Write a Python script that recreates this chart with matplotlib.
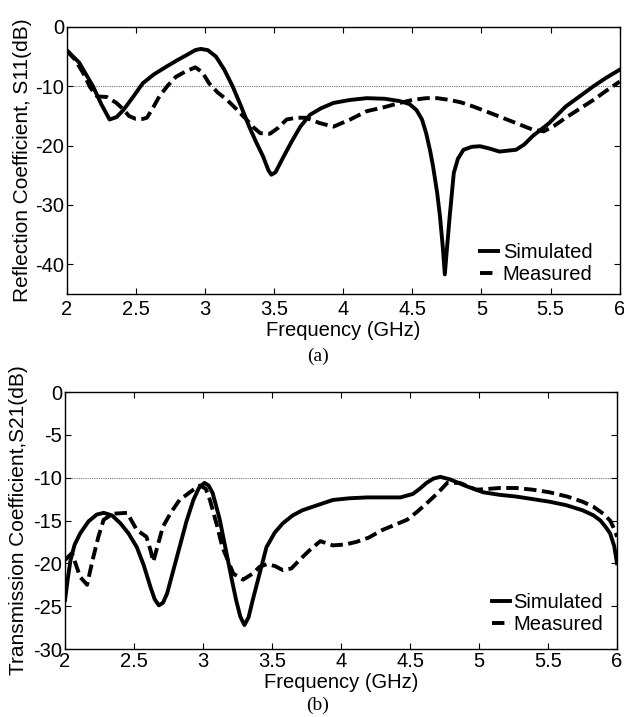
import matplotlib
matplotlib.use("Agg")
import matplotlib.pyplot as plt

plt.rcParams['font.family'] = ['Liberation Sans', 'DejaVu Sans']
plt.rcParams['axes.unicode_minus'] = False

# (a) reflection coefficient S11
f_s11_sim = [2.0, 2.09, 2.19, 2.25, 2.31, 2.36, 2.41, 2.48, 2.55, 2.63, 2.72, 2.8, 2.87, 2.93, 2.97,
             3.02, 3.08, 3.14, 3.2, 3.26, 3.32, 3.37, 3.42, 3.46, 3.48, 3.51, 3.57, 3.63, 3.69, 3.76,
             3.84, 3.93, 4.05, 4.17, 4.3, 4.41, 4.48, 4.53, 4.57, 4.6, 4.63, 4.65, 4.68, 4.7, 4.72,
             4.735, 4.75, 4.77, 4.8, 4.83, 4.87, 4.93, 4.99, 5.06, 5.13, 5.25, 5.31, 5.37, 5.49,
             5.61, 5.71, 5.81, 5.9, 6.0]
s11_sim = [-3.9, -6.0, -10.0, -13.0, -15.6, -15.2, -14.0, -11.8, -9.5, -8.0, -6.7, -5.6, -4.7, -3.9, -3.7,
           -3.9, -5.0, -7.2, -10.0, -13.3, -16.8, -19.4, -21.8, -24.2, -24.9, -24.5, -21.8, -19.2, -16.8, -14.8,
           -13.7, -12.8, -12.3, -12.0, -12.1, -12.5, -13.0, -14.0, -15.6, -17.9, -21.0, -23.5, -28.0, -31.9, -37.0,
           -41.7, -37.5, -32.0, -24.6, -22.2, -20.7, -20.2, -20.1, -20.5, -21.0, -20.7, -19.8, -18.4, -16.2,
           -13.4, -11.7, -10.0, -8.6, -7.2]

f_s11_meas = [2.0, 2.06, 2.12, 2.17, 2.22, 2.29, 2.36, 2.41, 2.45, 2.5, 2.55, 2.58, 2.62, 2.67, 2.73,
              2.79, 2.86, 2.93, 2.98, 3.03, 3.09, 3.16, 3.23, 3.3, 3.35, 3.4, 3.47, 3.53, 3.59, 3.66,
              3.73, 3.83, 3.93, 4.05, 4.17, 4.3, 4.41, 4.5, 4.6, 4.68, 4.77, 4.85, 4.94, 5.03, 5.13,
              5.25, 5.37, 5.45, 5.53, 5.61, 5.71, 5.81, 5.9, 6.0]
s11_meas = [-4.0, -5.5, -7.8, -10.2, -11.7, -11.8, -12.8, -13.9, -15.0, -15.5, -15.5, -15.3, -13.8, -11.7, -9.9,
            -8.4, -7.5, -6.8, -7.6, -9.5, -11.0, -12.3, -13.9, -15.6, -16.9, -17.9, -18.0, -17.0, -15.6, -15.3,
            -15.3, -16.2, -16.8, -15.6, -14.2, -13.5, -12.8, -12.3, -12.0, -12.0, -12.3, -12.7, -13.4, -14.2, -15.1,
            -16.2, -17.3, -17.6, -16.6, -15.3, -13.8, -12.3, -10.8, -9.2]

# (b) transmission coefficient S21
f_s21_sim = [2.0, 2.02, 2.04, 2.07, 2.11, 2.17, 2.23, 2.28, 2.34, 2.4, 2.46, 2.52, 2.57, 2.62, 2.65,
             2.68, 2.71, 2.74, 2.78, 2.83, 2.88, 2.93, 2.97, 3.01, 3.04, 3.07, 3.12, 3.17, 3.21, 3.24,
             3.27, 3.3, 3.33, 3.36, 3.41, 3.46, 3.52, 3.58, 3.65, 3.72, 3.83, 3.94, 4.06, 4.19, 4.31,
             4.43, 4.52, 4.57, 4.62, 4.67, 4.72, 4.79, 4.85, 4.91, 5.03, 5.15, 5.27, 5.39, 5.51, 5.63,
             5.75, 5.83, 5.88, 5.92, 5.95, 5.98, 6.0]
s21_sim = [-24.3, -21.8, -19.6, -17.8, -16.5, -15.1, -14.3, -14.1, -14.4, -15.3, -16.5, -18.1, -20.2, -22.8, -24.2,
           -24.9, -24.6, -23.5, -21.1, -18.1, -15.1, -12.6, -11.2, -10.6, -10.9, -11.8, -14.8, -18.8, -22.0, -24.3,
           -26.2, -27.2, -26.3, -24.3, -21.2, -18.1, -16.4, -15.3, -14.4, -13.8, -13.2, -12.6, -12.4, -12.3, -12.3,
           -12.3, -11.9, -11.3, -10.6, -10.1, -9.9, -10.2, -10.6, -11.0, -11.7, -12.0, -12.2, -12.5, -12.8, -13.2,
           -13.8, -14.4, -15.0, -15.8, -16.5, -18.0, -20.0]

f_s21_meas = [2.0, 2.05, 2.08, 2.11, 2.16, 2.2, 2.24, 2.28, 2.35, 2.45, 2.52, 2.59, 2.62, 2.64, 2.67,
              2.71, 2.77, 2.83, 2.93, 2.98, 3.02, 3.05, 3.1, 3.14, 3.22, 3.29, 3.36, 3.41, 3.46, 3.52,
              3.58, 3.64, 3.7, 3.77, 3.85, 3.94, 4.03, 4.11, 4.2, 4.3, 4.39, 4.48, 4.55, 4.62, 4.7,
              4.77, 4.86, 4.92, 4.98, 5.07, 5.15, 5.27, 5.39, 5.51, 5.64, 5.75, 5.83, 5.9, 5.95, 5.98, 6.0]
s21_meas = [-19.6, -18.8, -20.2, -21.6, -22.5, -19.6, -17.0, -14.9, -14.2, -14.1, -16.1, -16.9, -18.5, -19.8, -18.0,
            -15.7, -14.0, -12.6, -11.4, -10.9, -11.3, -12.6, -15.5, -18.1, -21.2, -21.9, -21.2, -20.4, -20.1, -20.3,
            -20.8, -20.6, -19.6, -18.5, -17.4, -17.9, -17.8, -17.5, -17.0, -16.1, -15.5, -14.9, -14.0, -13.0, -11.8,
            -10.6, -10.6, -11.0, -11.4, -11.3, -11.2, -11.2, -11.4, -11.7, -12.2, -12.8, -13.4, -14.2, -15.0, -16.0, -16.9]

fig = plt.figure(figsize=(6.24, 7.17), dpi=100)
ax1 = fig.add_axes([0.1069, 0.590, 0.8862, 0.3724])
ax2 = fig.add_axes([0.1042, 0.0948, 0.8846, 0.3584])

fs = 14.5
dash = (0, (3.2, 1.4))
for ax in (ax1, ax2):
    ax.axhline(-10, color='#777777', lw=0.8, ls=(0, (1, 1)), zorder=1)

ax1.plot(f_s11_sim, s11_sim, color='black', lw=2.8, label='Simulated', solid_joinstyle='round')
ax1.plot(f_s11_meas, s11_meas, color='black', lw=2.8, ls=dash, label='Measured')
ax1.set_ylim(-45, 0)
ax1.set_yticks([0, -10, -20, -30, -40])
ax1.set_ylabel('Reflection Coefficient, S11(dB)', fontsize=15, labelpad=2)

ax2.plot(f_s21_sim, s21_sim, color='black', lw=2.8, label='Simulated', solid_joinstyle='round')
ax2.plot(f_s21_meas, s21_meas, color='black', lw=2.8, ls=dash, label='Measured')
ax2.set_ylim(-30, 0)
ax2.set_yticks([0, -5, -10, -15, -20, -25, -30])
ax2.set_ylabel('Transmission Coefficient,S21(dB)', fontsize=15, labelpad=4)

for ax, xpad in ((ax1, 4.3), (ax2, 2.0)):
    ax.set_xlim(2, 6)
    ax.set_xticks([2, 2.5, 3, 3.5, 4, 4.5, 5, 5.5, 6])
    ax.set_xticklabels(['2', '2.5', '3', '3.5', '4', '4.5', '5', '5.5', '6'])
    ax.tick_params(direction='in', top=True, right=True, labelsize=fs, length=4, width=0.8)
    ax.tick_params(axis='x', pad=xpad)
    ax.tick_params(axis='y', pad=2)
    ax.set_xlabel('Frequency (GHz)', fontsize=fs, labelpad=1.5)
    for sp in ax.spines.values():
        sp.set_linewidth(1.0)

ax1.legend(loc='lower right', bbox_to_anchor=(0.951, 0.037), frameon=False, fontsize=fs,
           handlelength=0.9, handletextpad=0.25, labelspacing=0.15, borderaxespad=0, borderpad=0)
ax2.legend(loc='lower right', bbox_to_anchor=(0.975, 0.058), frameon=False, fontsize=fs,
           handlelength=0.9, handletextpad=0.15, labelspacing=0.15, borderaxespad=0, borderpad=0)

fig.text(0.5096, 0.5035, '(a)', ha='center', va='center', fontsize=14, family='Liberation Serif')
fig.text(0.5096, 0.0167, '(b)', ha='center', va='center', fontsize=14, family='Liberation Serif')

fig.savefig('out.png', dpi=100)
